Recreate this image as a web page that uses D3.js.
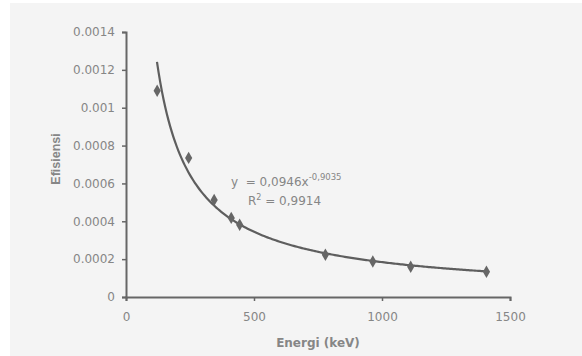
<!DOCTYPE html>
<html><head><meta charset="utf-8">
<script src="https://cdn.jsdelivr.net/npm/d3@7"></script>
<style>body{margin:0;background:#fff}svg{display:block}</style>
</head><body>
<svg id="c" width="582" height="356"></svg>
<script>
const energies = [121.8, 244.7, 344.3, 411.1, 444.0, 778.9, 964.1, 1112.1, 1408.0];
const efficiencies = [0.00109, 0.000735, 0.000513, 0.000418, 0.000382, 0.000223, 0.000187, 0.000160, 0.000133];
const fitA = 0.0946, fitB = -0.9035;
const fitRange = [121, 1408];
const xTicks = [0, 500, 1000, 1500];
const yTicks = [0, 0.0002, 0.0004, 0.0006, 0.0008, 0.001, 0.0012, 0.0014];
const yTickLabels = ["0", "0.0002", "0.0004", "0.0006", "0.0008", "0.001", "0.0012", "0.0014"];

const svg = d3.select("#c");
const grey = "#868686", dark = "#666666";
const font = "DejaVu Sans, sans-serif";
svg.append("rect").attr("x",10).attr("y",3).attr("width",572).attr("height",353).attr("fill","#f4f4f4");

const x = d3.scaleLinear().domain([0,1500]).range([126,510]);
const y = d3.scaleLinear().domain([0,0.0014]).range([297,32]);

const xa = svg.append("g").attr("transform","translate(0,297)")
  .call(d3.axisBottom(x).tickValues(xTicks).tickFormat(d3.format("d")).tickSize(4).tickPadding(11));
const ya = svg.append("g").attr("transform","translate(126,0)")
  .call(d3.axisLeft(y).tickValues(yTicks).tickFormat((d,i)=>yTickLabels[i]).tickSize(4).tickPadding(7));
[xa,ya].forEach(g=>{
  g.select(".domain").attr("stroke",dark).attr("stroke-width",2);
  g.selectAll(".tick line").attr("stroke",dark).attr("stroke-width",1.5);
  g.selectAll("text").attr("fill",grey).attr("font-family",font).attr("font-size",12);
});

// fit curve
const curve = d3.range(0,201).map(i=>{
  const e = fitRange[0] + (fitRange[1]-fitRange[0])*i/200;
  return [e, fitA*Math.pow(e,fitB)];
});
svg.append("path").datum(curve)
  .attr("d", d3.line().x(d=>x(d[0])).y(d=>y(d[1])))
  .attr("fill","none").attr("stroke","#5e5e5e").attr("stroke-width",2.2);

// points
svg.append("g").selectAll("path").data(energies).join("path")
  .attr("d", d3.symbol(d3.symbolDiamond, 45))
  .attr("transform",(d,i)=>`translate(${x(d)},${y(efficiencies[i])})`)
  .attr("fill","#666666");

// equation
const eq = svg.append("text").attr("x",231).attr("y",186).attr("fill",grey).attr("font-family",font).attr("font-size",12)
  .attr("xml:space","preserve").style("white-space","pre");
eq.append("tspan").text("y  = 0,0946x");
eq.append("tspan").attr("dy",-6).attr("font-size",8.5).text("-0,9035");
const r2 = svg.append("text").attr("x",248).attr("y",205).attr("fill",grey).attr("font-family",font).attr("font-size",12);
r2.append("tspan").text("R");
r2.append("tspan").attr("dy",-5).attr("font-size",8).text("2");
r2.append("tspan").attr("dy",5).text(" = 0,9914");

// axis titles
svg.append("text").attr("transform","translate(60,159) rotate(-90)").attr("text-anchor","middle")
  .attr("fill",grey).attr("font-family","Liberation Sans, Arial, sans-serif").attr("font-size",12.5).attr("font-weight","bold").text("Efisiensi");
svg.append("text").attr("x",318).attr("y",347).attr("text-anchor","middle")
  .attr("fill",grey).attr("font-family",font).attr("font-size",12).attr("font-weight","bold").text("Energi (keV)");
</script>
</body></html>
